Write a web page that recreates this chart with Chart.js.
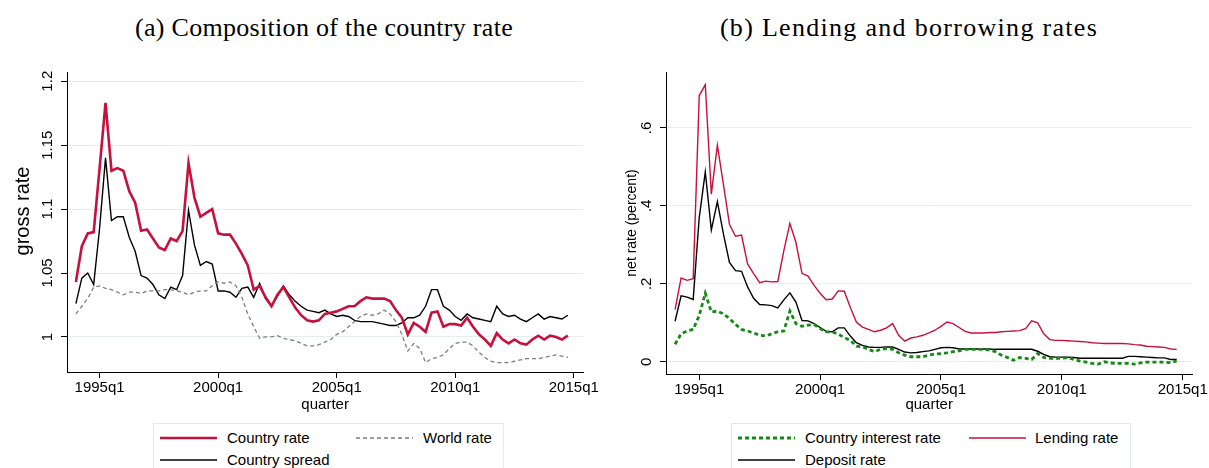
<!DOCTYPE html>
<html>
<head>
<meta charset="utf-8">
<script src="https://cdn.jsdelivr.net/npm/chart.js@4/dist/chart.umd.min.js"></script>
<style>
  body { margin:0; background:#fff; width:1209px; height:468px; overflow:hidden; position:relative;
         font-family:"Liberation Sans", Arial, sans-serif; }
  .ptitle { position:absolute; top:14px; line-height:28px; font-family:"Liberation Serif", serif;
            font-size:26px; color:#000; white-space:nowrap; transform:translateX(-50%); }
  .wrap { position:absolute; top:60px; height:354px; }
  .legbox { position:absolute; top:423px; height:60px; border:1px solid #e3e9eb; box-sizing:border-box; }
  .legtxt { position:absolute; font-size:15px; line-height:18px; color:#000; white-space:nowrap; }
  .legline { position:absolute; }
</style>
</head>
<body>
<div class="ptitle" style="left:324px;letter-spacing:0.3px">(a) Composition of the country rate</div>
<div class="ptitle" style="left:909px;letter-spacing:1.3px">(b) Lending and borrowing rates</div>
<div class="wrap" style="left:0;width:600px"><canvas id="left"></canvas></div>
<div class="wrap" style="left:600px;width:609px"><canvas id="right"></canvas></div>
<div class="legbox" id="legLeft" style="left:153px;width:351px"></div>
<div class="legbox" id="legRight" style="left:731px;width:400px"></div>
<script>
// quarters 1994q1 .. 2014q4
var quarters = [];
for (var yr = 1994; yr <= 2014; yr++) {
  for (var q = 1; q <= 4; q++) quarters.push(yr + 'q' + q);
}
var xTickYears = [1995, 2000, 2005, 2010, 2015];

// panel (a)
var countryRate = [1.043, 1.071, 1.081, 1.082, 1.132, 1.183, 1.130, 1.132, 1.130, 1.114,
  1.105, 1.083, 1.084, 1.077, 1.070, 1.068, 1.077, 1.075, 1.083, 1.136,
  1.109, 1.094, 1.097, 1.100, 1.081, 1.080, 1.080, 1.073, 1.065, 1.056,
  1.037, 1.040, 1.031, 1.024, 1.033, 1.039, 1.031, 1.023, 1.017, 1.013,
  1.012, 1.013, 1.018, 1.019, 1.020, 1.022, 1.024, 1.024, 1.028, 1.031,
  1.030, 1.030, 1.030, 1.028, 1.021, 1.015, 1.002, 1.011, 1.008, 1.004,
  1.019, 1.020, 1.008, 1.010, 1.010, 1.009, 1.015, 1.008, 1.002, 0.998,
  0.993, 1.003, 0.998, 0.995, 0.998, 0.995, 0.994, 0.998, 1.001, 0.998,
  1.001, 1.000, 0.998, 1.001];
var worldRate = [1.018, 1.024, 1.030, 1.039, 1.040, 1.038, 1.037, 1.035, 1.033, 1.035,
  1.035, 1.034, 1.036, 1.036, 1.036, 1.037, 1.037, 1.036, 1.035, 1.033,
  1.035, 1.036, 1.036, 1.040, 1.043, 1.042, 1.043, 1.040, 1.031, 1.018,
  1.008, 0.999, 1.000, 1.000, 1.001, 0.999, 0.998, 0.997, 0.995, 0.993,
  0.993, 0.994, 0.996, 0.998, 1.002, 1.004, 1.008, 1.012, 1.016, 1.018,
  1.017, 1.018, 1.021, 1.018, 1.012, 1.002, 0.989, 0.995, 0.991, 0.980,
  0.983, 0.984, 0.986, 0.991, 0.995, 0.996, 0.996, 0.993, 0.988, 0.984,
  0.981, 0.980, 0.980, 0.980, 0.981, 0.982, 0.983, 0.983, 0.983, 0.984,
  0.985, 0.986, 0.985, 0.984];
var countrySpread = [1.026, 1.046, 1.050, 1.041, 1.085, 1.140, 1.091, 1.094, 1.094, 1.078,
  1.067, 1.048, 1.046, 1.041, 1.033, 1.030, 1.039, 1.037, 1.048, 1.099,
  1.072, 1.056, 1.059, 1.057, 1.036, 1.036, 1.035, 1.031, 1.038, 1.039,
  1.031, 1.042, 1.030, 1.024, 1.032, 1.040, 1.033, 1.028, 1.024, 1.021,
  1.020, 1.019, 1.021, 1.018, 1.016, 1.017, 1.016, 1.013, 1.012, 1.012,
  1.012, 1.011, 1.010, 1.009, 1.009, 1.011, 1.015, 1.015, 1.017, 1.024,
  1.037, 1.037, 1.024, 1.021, 1.016, 1.013, 1.018, 1.015, 1.014, 1.013,
  1.012, 1.024, 1.018, 1.016, 1.017, 1.014, 1.012, 1.015, 1.018, 1.014,
  1.016, 1.015, 1.014, 1.017];
var grossTicks = [1, 1.05, 1.1, 1.15, 1.2];
var grossTickLabels = ['1', '1.05', '1.1', '1.15', '1.2'];

// panel (b)
var countryInterest = [.045, .072, .079, .083, .119, .176, .128, .130, .123, .111,
  .096, .083, .079, .074, .068, .066, .072, .077, .079, .130,
  .098, .091, .094, .096, .085, .077, .077, .071, .062, .055,
  .040, .038, .032, .026, .032, .034, .032, .023, .017, .013,
  .013, .013, .017, .020, .021, .023, .026, .028, .032, .032,
  .032, .032, .030, .026, .017, .011, .004, .011, .009, .006,
  .021, .011, .009, .009, .009, .011, .006, .002, -.001, -.004,
  -.006, .000, -.003, -.004, -.004, -.004, -.006, -.003, -.001, -.001,
  -.001, -.001, -.002, .002];
var lendingRate = [.134, .215, .209, .213, .683, .711, .430, .556, .455, .353,
  .322, .325, .251, .226, .203, .207, .205, .206, .285, .355,
  .306, .227, .220, .196, .176, .159, .161, .182, .181, .139,
  .102, .089, .083, .077, .081, .087, .098, .068, .053, .061,
  .064, .068, .074, .081, .091, .102, .098, .088, .078, .074,
  .074, .074, .075, .075, .077, .078, .079, .080, .085, .105,
  .100, .072, .057, .055, .055, .054, .053, .052, .051, .049,
  .048, .047, .047, .047, .047, .046, .044, .043, .040, .039,
  .038, .037, .033, .032];
var depositRate = [.104, .169, .166, .160, .370, .487, .338, .411, .328, .255,
  .234, .232, .192, .163, .147, .146, .144, .138, .159, .177,
  .153, .106, .105, .098, .088, .078, .077, .087, .087, .066,
  .049, .042, .038, .037, .037, .038, .038, .032, .025, .023,
  .024, .026, .028, .032, .036, .037, .036, .033, .033, .033,
  .033, .033, .033, .032, .032, .032, .032, .032, .032, .032,
  .027, .019, .013, .012, .012, .012, .011, .009, .009, .009,
  .009, .009, .009, .009, .009, .014, .014, .013, .012, .011,
  .010, .010, .006, .006];
var netTicks = [0, .2, .4, .6];
var netTickLabels = ['0', '.2', '.4', '.6'];

var RED = '#c8103c', GRAY = '#7f7f7f', GREEN = '#138a13';
var FONT = '"Liberation Sans", Arial, sans-serif';

function qx(s) {
  var p = s.split('q');
  return +p[0] + (p[1] - 1) / 4;
}
function pts(vals) {
  return quarters.map(function (q, i) { return { x: qx(q), y: vals[i] }; });
}

// y tick labels and y title turned on their side, as in the original
var sideTicks = {
  id: 'sideTicks',
  afterDraw: function (chart) {
    var ys = chart.scales.y, ctx = chart.ctx;
    var o = chart.options.plugins.sideTicks;
    var area = chart.chartArea;
    ctx.save();
    ctx.fillStyle = '#000';
    ctx.font = '15px ' + FONT;
    ctx.textAlign = 'center';
    ctx.textBaseline = 'middle';
    ys.ticks.forEach(function (t, i) {
      ctx.save();
      ctx.translate(area.left - 19, ys.getPixelForValue(t.value));
      ctx.rotate(-Math.PI / 2);
      ctx.fillText(o.labels[i], 0, 0);
      ctx.restore();
    });
    ctx.font = o.titleSize + 'px ' + FONT;
    ctx.translate(o.titleX, (area.top + area.bottom) / 2 + o.titleShift);
    ctx.rotate(-Math.PI / 2);
    ctx.fillText(o.title, 0, 0);
    ctx.restore();
  }
};

function makeChart(id, datasets, o) {
  return new Chart(document.getElementById(id), {
    type: 'line',
    data: { datasets: datasets },
    plugins: [sideTicks],
    options: {
      responsive: true,
      maintainAspectRatio: false,
      animation: false,
      layout: { padding: { top: 10, right: o.padRight, left: 0, bottom: 0 } },
      elements: { point: { radius: 0 }, line: { tension: 0 } },
      plugins: { legend: { display: false }, tooltip: { enabled: false },
                 sideTicks: { labels: o.tickLabels, title: o.yTitle, titleSize: o.yTitleSize,
                              titleX: o.yTitleX, titleShift: o.yTitleShift } },
      scales: {
        x: {
          type: 'linear', min: 1993.625, max: 2015.4,
          afterBuildTicks: function (s) { s.ticks = xTickYears.map(function (v) { return { value: v }; }); },
          afterFit: function (s) { s.height = o.xHeight; },
          grid: { drawOnChartArea: false, drawTicks: true, tickLength: 6, tickColor: '#000' },
          border: { display: true, color: '#000', width: 1 },
          ticks: { autoSkip: false, maxRotation: 0, padding: 1, color: '#000',
                   font: { family: FONT, size: 15 },
                   callback: function (v) { return v + 'q1'; } },
          title: { display: true, text: 'quarter', color: '#000',
                   font: { family: FONT, size: 15 }, padding: { top: 0, bottom: 0 } }
        },
        y: {
          min: o.yMin, max: o.yMax,
          afterBuildTicks: function (s) { s.ticks = o.ticks.map(function (v) { return { value: v }; }); },
          afterFit: function (s) { s.width = o.yWidth; },
          grid: { color: '#e6eef0', lineWidth: 1, tickLength: 6, tickColor: '#000' },
          border: { display: true, color: '#000', width: 1 },
          ticks: { color: 'rgba(0,0,0,0)', font: { family: FONT, size: 15 } },
          title: { display: false }
        }
      }
    }
  });
}

var leftSets = [
  { label: 'Country rate', data: pts(countryRate), borderColor: RED, borderWidth: 2.6 },
  { label: 'World rate', data: pts(worldRate), borderColor: GRAY, borderWidth: 1.3, borderDash: [4, 3] },
  { label: 'Country spread', data: pts(countrySpread), borderColor: '#000', borderWidth: 1.4 }
];
var rightSets = [
  { label: 'Country interest rate', data: pts(countryInterest), borderColor: GREEN, borderWidth: 2.8, borderDash: [4, 3] },
  { label: 'Lending rate', data: pts(lendingRate), borderColor: RED, borderWidth: 1.4 },
  { label: 'Deposit rate', data: pts(depositRate), borderColor: '#000', borderWidth: 1.4 }
];

makeChart('left', leftSets, { padRight: 10, xHeight: 42, yWidth: 67, yMin: 0.9726, yMax: 1.2072,
  ticks: grossTicks, tickLabels: grossTickLabels, yTitle: 'gross rate', yTitleSize: 20, yTitleX: 23, yTitleShift: -11 });
makeChart('right', rightSets, { padRight: 14, xHeight: 40, yWidth: 66, yMin: -0.0313, yMax: 0.7434,
  ticks: netTicks, tickLabels: netTickLabels, yTitle: 'net rate (percent)', yTitleSize: 14, yTitleX: 32, yTitleShift: 0 });

// boxed two-column legends, built from the datasets
function legend(boxId, sets, cols) {
  var box = document.getElementById(boxId);
  sets.forEach(function (ds, i) {
    var c = cols[i];
    var svg = document.createElementNS('http://www.w3.org/2000/svg', 'svg');
    svg.setAttribute('width', 57); svg.setAttribute('height', 6);
    svg.setAttribute('class', 'legline');
    svg.style.left = c.line + 'px'; svg.style.top = (c.row - 3) + 'px';
    var ln = document.createElementNS('http://www.w3.org/2000/svg', 'line');
    ln.setAttribute('x1', 0); ln.setAttribute('x2', 57); ln.setAttribute('y1', 3); ln.setAttribute('y2', 3);
    ln.setAttribute('stroke', ds.borderColor);
    ln.setAttribute('stroke-width', ds.borderWidth);
    if (ds.borderDash) ln.setAttribute('stroke-dasharray', ds.borderDash.join(' '));
    svg.appendChild(ln);
    box.appendChild(svg);
    var t = document.createElement('div');
    t.className = 'legtxt';
    t.textContent = ds.label;
    t.style.left = c.text + 'px'; t.style.top = (c.row - 9) + 'px';
    box.appendChild(t);
  });
}
legend('legLeft', leftSets, [{ line: 6, text: 73, row: 14 }, { line: 202, text: 269, row: 14 }, { line: 6, text: 73, row: 36 }]);
legend('legRight', rightSets, [{ line: 6, text: 73, row: 14 }, { line: 237, text: 303, row: 14 }, { line: 6, text: 73, row: 36 }]);
</script>
</body>
</html>
